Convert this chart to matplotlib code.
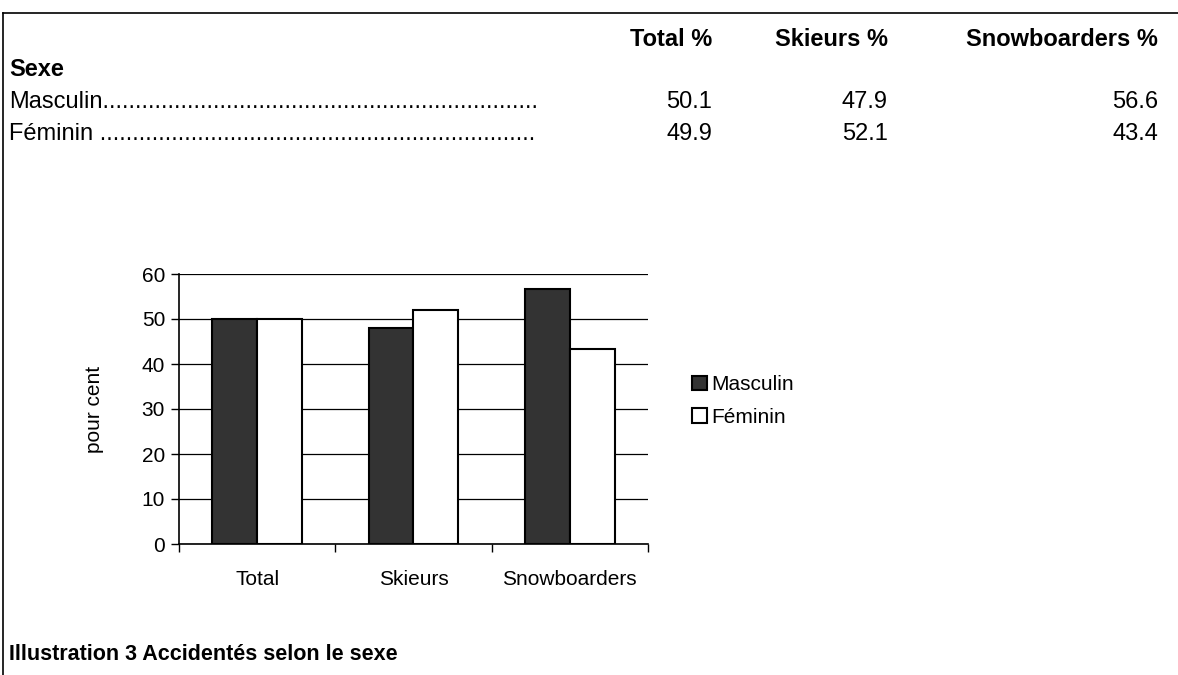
import matplotlib
matplotlib.use("Agg")
import matplotlib.pyplot as plt
import numpy as np
from matplotlib.patches import Patch
from matplotlib.lines import Line2D

plt.rcParams["font.family"] = ["Liberation Sans", "DejaVu Sans"]

# données
categories = ["Total", "Skieurs", "Snowboarders"]
column_headers = ["Total %", "Skieurs %", "Snowboarders %"]
row_labels = ["Masculin", "Féminin"]
masculin = [50.1, 47.9, 56.6]
feminin = [49.9, 52.1, 43.4]
y_ticks = [0, 10, 20, 30, 40, 50, 60]

W, H = 1178, 675
fig = plt.figure(figsize=(W / 100, H / 100), dpi=100)


def px(x, y):
    return x / W, 1 - y / H


# cadre (trait du haut et trait de gauche)
fig.add_artist(Line2D([3 / W, 1.0], [1 - 13 / H, 1 - 13 / H], color="black", lw=1.2))
fig.add_artist(Line2D([3 / W, 3 / W], [0.0, 1 - 13 / H], color="black", lw=1.2))

# tableau
body_size = 17
col_right = [712, 888, 1158]
for xr, head in zip(col_right, column_headers):
    fig.text(*px(xr, 40), head, ha="right", va="center", fontsize=body_size, fontweight="bold")
fig.text(*px(9, 70), "Sexe", ha="left", va="center", fontsize=body_size, fontweight="bold")

leaders = {"Masculin": "Masculin" + "." * 67, "Féminin": "Féminin " + "." * 67}
rows = [masculin, feminin]
for i, (label, vals) in enumerate(zip(row_labels, rows)):
    y = 102 + 32 * i
    fig.text(*px(9, y), leaders[label], ha="left", va="center", fontsize=body_size)
    for xr, v in zip(col_right, vals):
        fig.text(*px(xr, y), f"{v:.1f}", ha="right", va="center", fontsize=body_size)

# graphique
ax = fig.add_axes([179 / W, 1 - 544 / H, (648 - 179) / W, (544 - 274) / H])
x = np.arange(len(categories))
bw = 0.287
ax.bar(x - bw / 2, masculin, width=bw, color="#333333", edgecolor="black", linewidth=1.5, zorder=3)
ax.bar(x + bw / 2, feminin, width=bw, color="white", edgecolor="black", linewidth=1.5, zorder=3)

ax.set_xlim(-0.5, len(categories) - 0.5)
ax.set_ylim(0, 60)
ax.set_yticks(y_ticks)
ax.tick_params(axis="y", labelsize=15, length=6, width=1, direction="out", pad=4)
ax.yaxis.grid(True, color="black", lw=0.9, zorder=0)
ax.set_axisbelow(True)

ax.set_xticks(x)
ax.set_xticklabels(categories, fontsize=15)
ax.tick_params(axis="x", length=0, pad=19)
ax.set_xticks(np.arange(len(categories) + 1) - 0.5, minor=True)
ax.tick_params(axis="x", which="minor", length=6, width=1, direction="out")

for side in ["top", "right"]:
    ax.spines[side].set_visible(False)
ax.spines["left"].set_linewidth(1.2)
ax.spines["bottom"].set_linewidth(1.2)
ax.set_ylabel("pour cent", fontsize=15, labelpad=27)

handles = [
    Patch(facecolor="#333333", edgecolor="black", linewidth=1.5),
    Patch(facecolor="white", edgecolor="black", linewidth=1.5),
]
fig.legend(handles, row_labels, loc="center left", bbox_to_anchor=(684 / W, 1 - 401 / H),
           frameon=False, fontsize=15, handlelength=0.7, handleheight=0.7,
           handletextpad=0.2, labelspacing=0.65, borderaxespad=0)

fig.text(*px(9, 654), "Illustration 3 Accidentés selon le sexe", ha="left", va="center",
         fontsize=15.5, fontweight="bold")

fig.savefig("out.png", dpi=100)
